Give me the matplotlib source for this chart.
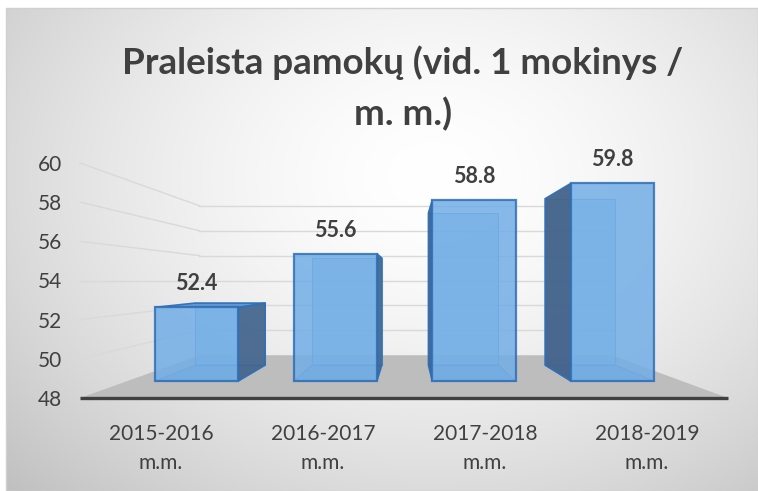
import numpy as np
import matplotlib.pyplot as plt
from matplotlib.patches import Polygon, Rectangle

plt.rcParams['font.family'] = ['Lato', 'DejaVu Sans']

categories = ['2015-2016\nm.m.', '2016-2017\nm.m.', '2017-2018\nm.m.', '2018-2019\nm.m.']
values = [52.4, 55.6, 58.8, 59.8]
title = 'Praleista pamokų (vid. 1 mokinys /\nm. m.)'
yticks = [48, 50, 52, 54, 56, 58, 60]

W, H = 758, 491
fig = plt.figure(figsize=(W / 100, H / 100), dpi=100)
fig.patch.set_facecolor('white')

# background: radial grey gradient in the chart area
bg = fig.add_axes([0, 0, 1, 1])
bg.set_xlim(0, W)
bg.set_ylim(H, 0)
bg.axis('off')
xx, yy = np.meshgrid(np.arange(W), np.arange(H))
d = np.sqrt(((xx - 430) / 430.0) ** 2 + ((yy - 170) / 330.0) ** 2)
g = 1.0 - 0.25 * np.clip(d, 0, 1.4) ** 1.6 / 1.4 ** 1.6
img = np.dstack([g, g, g])
bg.imshow(img, extent=(6, W, H, 8), aspect='auto', zorder=0)
bg.add_patch(Rectangle((6, 8), W - 6, H - 8, fill=False, ec='#d0d0d0', lw=1, zorder=1))

# main axes = front plane of the 3d box
ax = fig.add_axes([80 / W, (H - 398) / H, 648 / W, 235 / H])
ax.set_xlim(-0.5, 3.5)
ax.set_ylim(48, 60)
ax.patch.set_visible(False)
for sp in ax.spines.values():
    sp.set_visible(False)

VX, VY = 1.525, 54.0      # vanishing point in data units
S_F, S_B, S_W = 0.856, 0.72, 0.636   # depth scales: bar front, bar back, back wall
BW = 0.6


def proj(x, y, s):
    return VX + (x - VX) * s, VY + (y - VY) * s


def poly(pts, **kw):
    ax.add_patch(Polygon(pts, closed=True, clip_on=False, **kw))


# floor
poly([proj(-0.5, 48, 1), proj(3.5, 48, 1), proj(3.5, 48, S_W), proj(-0.5, 48, S_W)],
     fc='#bdbdbd', ec='none', zorder=1)

# gridlines on back wall and left wall
for v in yticks[1:]:
    xa, ya = proj(-0.5, v, S_W)
    xb, yb = proj(3.5, v, S_W)
    ax.plot([xa, xb], [ya, yb], color='#d9d9d9', lw=1, zorder=2, clip_on=False)
    xf, yf = proj(-0.5, v, 1)
    ax.plot([xf, xa], [yf, ya], color='#d9d9d9', lw=1, zorder=2, clip_on=False)

edge = '#2f6fb7'
front_c = '#72aee6'
side_c = '#44638a'
for i, v in enumerate(values):
    x0, x1 = i - BW / 2, i + BW / 2
    F = lambda x, y: proj(x, y, S_F)
    B = lambda x, y: proj(x, y, S_B)
    z = 3
    poly([B(x0, 48), B(x1, 48), B(x1, v), B(x0, v)], fc='#8fbde8', ec=edge, lw=0.8, alpha=0.6, zorder=z)
    poly([F(x0, 48), F(x1, 48), B(x1, 48), B(x0, 48)], fc='#6a9fd0', ec=edge, lw=0.8, alpha=0.6, zorder=z)
    left = [F(x0, 48), B(x0, 48), B(x0, v), F(x0, v)]
    right = [F(x1, 48), B(x1, 48), B(x1, v), F(x1, v)]
    top = [F(x0, v), F(x1, v), B(x1, v), B(x0, v)]
    if x0 > VX:
        poly(left, fc=side_c, ec=edge, lw=1.2, alpha=0.95, zorder=z + 1)
    if x1 < VX:
        poly(right, fc=side_c, ec=edge, lw=1.2, alpha=0.9, zorder=z + 1)
    if v < VY:
        poly(top, fc='#5f95cc', ec=edge, lw=1.2, alpha=0.95, zorder=z + 1)
    poly([F(x0, 48), F(x1, 48), F(x1, v), F(x0, v)], fc=front_c, ec=edge, lw=1.6, alpha=0.85, zorder=z + 2)
    ax.annotate(f'{v:.1f}', xy=F(i, v), xytext=(0, 17), textcoords='offset points',
                ha='center', va='center', fontsize=15.5, fontweight='bold', color='#404040', zorder=10)

ax.plot([-0.5, 3.5], [48, 48], color='#404040', lw=2.4, zorder=8, clip_on=False, solid_capstyle='butt')

ax.set_yticks(yticks)
ax.set_xticks(range(len(categories)))
ax.set_xticklabels(categories, linespacing=1.55)
ax.tick_params(axis='y', length=0, pad=13, labelsize=15, labelcolor='#404040')
ax.tick_params(axis='x', length=0, pad=19, labelsize=15, labelcolor='#404040')

fig.text(403 / W, 1 - 88 / H, title, ha='center', va='center', fontsize=26.5,
         fontweight='bold', color='#404040', linespacing=1.6)

fig.savefig('out.png', dpi=100)
